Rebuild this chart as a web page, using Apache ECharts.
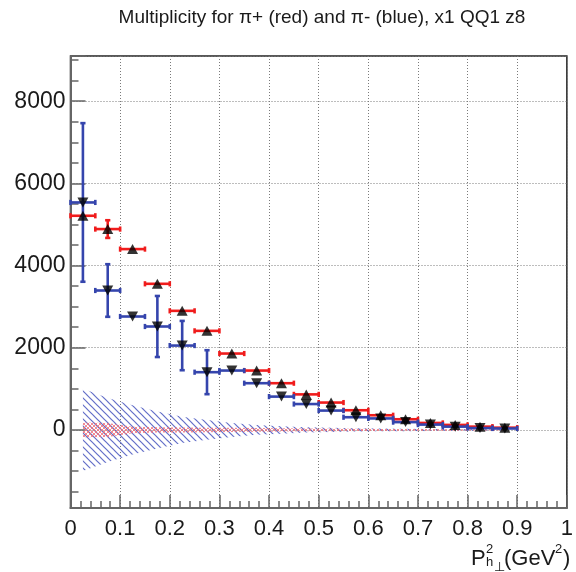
<!DOCTYPE html>
<html>
<head>
<meta charset="utf-8">
<script src="https://cdn.jsdelivr.net/npm/echarts@6/dist/echarts.min.js"></script>
<style>
  html, body { margin: 0; padding: 0; background: #fff; }
  #chart { width: 576px; height: 572px; }
</style>
</head>
<body>
<div id="chart"></div>
<script>
// P_h⊥² bins (centres) and half-width
const binCenters = [0.025, 0.075, 0.125, 0.175, 0.225, 0.275, 0.325, 0.375, 0.425,
                    0.475, 0.525, 0.575, 0.625, 0.675, 0.725, 0.775, 0.825, 0.875];
const binHalfWidth = 0.025;

// pi+ multiplicity (red), statistical errors and systematic band
const piPlusValues = [5212, 4888, 4401, 3556, 2898, 2411, 1859, 1445, 1137,
                      865, 666, 479, 357, 260, 170, 122, 80, 55];
const piPlusErrors = [80, 215, 70, 80, 70, 60, 55, 50, 45,
                      40, 35, 30, 30, 25, 25, 20, 20, 20];
const piPlusSyst   = [180, 170, 80, 65, 60, 55, 50, 45, 40,
                      35, 30, 28, 25, 22, 20, 18, 16, 15];

// pi- multiplicity (blue), statistical errors and systematic band
const piMinusValues = [5536, 3393, 2760, 2517, 2053, 1405, 1445, 1137, 811,
                       630, 471, 309, 280, 190, 130, 80, 45, 35];
const piMinusErrors = [1930, 640, 90, 743, 600, 535, 70, 60, 55,
                       50, 45, 40, 35, 30, 30, 25, 25, 25];
const piMinusSyst   = [1000, 780, 600, 450, 320, 240, 170, 120, 90,
                       65, 50, 40, 35, 30, 25, 20, 18, 15];

const xTickLabels = ['0', '0.1', '0.2', '0.3', '0.4', '0.5', '0.6', '0.7', '0.8', '0.9', '1'];

const FONT = '"Liberation Sans", Arial, Helvetica, sans-serif';
const SYMBOL_FONT = '"DejaVu Sans", sans-serif';
const RED = '#f01c1c';
const BLUE = '#3545ad';
const INK = '#1a1a1a';

// hatch fills for the systematic bands
function makeHatch(size, color, width, cross) {
  const c = document.createElement('canvas');
  c.width = size; c.height = size;
  const g = c.getContext('2d');
  g.strokeStyle = color;
  g.lineWidth = width;
  const seg = (x1, y1, x2, y2) => { g.beginPath(); g.moveTo(x1, y1); g.lineTo(x2, y2); g.stroke(); };
  seg(-1, -1, size + 1, size + 1);
  seg(-1, size - 1, 1, size + 1);
  seg(size - 1, -1, size + 1, 1);
  if (cross) {
    seg(-1, size + 1, size + 1, -1);
    seg(-1, 1, 1, -1);
    seg(size - 1, size + 1, size + 1, size - 1);
  }
  return { image: c, repeat: 'repeat' };
}
const blueHatch = makeHatch(7, 'rgba(70,85,190,0.85)', 1.2, false);
const redHatch = makeHatch(4, 'rgba(240,110,120,0.8)', 1.0, true);

function bandRenderer(values, fill) {
  return function (params, api) {
    const upper = binCenters.map((x, i) => api.coord([x, values[i]]));
    const lower = binCenters.map((x, i) => api.coord([x, -values[i]])).reverse();
    return {
      type: 'polygon',
      shape: { points: upper.concat(lower) },
      style: { fill: fill, stroke: null }
    };
  };
}

function errorBarRenderer(color) {
  return function (params, api) {
    const x = api.value(0), y = api.value(1), e = api.value(2);
    const l = api.coord([x - binHalfWidth, y]);
    const r = api.coord([x + binHalfWidth, y]);
    const t = api.coord([x, y + e]);
    const b = api.coord([x, y - e]);
    const style = { stroke: color, lineWidth: 2.6 };
    const cap = 2.6;
    const children = [
      { type: 'line', shape: { x1: l[0], y1: l[1], x2: r[0], y2: r[1] }, style },
      { type: 'line', shape: { x1: l[0], y1: l[1] - cap, x2: l[0], y2: l[1] + cap }, style },
      { type: 'line', shape: { x1: r[0], y1: r[1] - cap, x2: r[0], y2: r[1] + cap }, style }
    ];
    if (b[1] - t[1] > 9) {
      children.push(
        { type: 'line', shape: { x1: t[0], y1: t[1], x2: b[0], y2: b[1] }, style },
        { type: 'line', shape: { x1: t[0] - cap, y1: t[1], x2: t[0] + cap, y2: t[1] }, style },
        { type: 'line', shape: { x1: b[0] - cap, y1: b[1], x2: b[0] + cap, y2: b[1] }, style }
      );
    }
    return { type: 'group', children };
  };
}

const plusPoints = binCenters.map((x, i) => [x, piPlusValues[i], piPlusErrors[i]]);
const minusPoints = binCenters.map((x, i) => [x, piMinusValues[i], piMinusErrors[i]]);

const chart = echarts.init(document.getElementById('chart'), null, { renderer: 'canvas' });

const gridLine = { show: true, lineStyle: { color: '#7a7a7a', type: [1, 2], width: 1 } };

function txt(x, y, text, size, family) {
  return { type: 'text', x: x, y: y,
           style: { text: text, font: size + 'px ' + (family || FONT), fill: INK } };
}

chart.setOption({
  animation: false,
  backgroundColor: '#fff',
  graphic: [
    {
      type: 'text', x: 322, y: 18,
      style: { text: 'Multiplicity for π+ (red) and π- (blue), x1 QQ1 z8',
               font: '19px ' + FONT, fill: INK, align: 'center', verticalAlign: 'middle' }
    },
    txt(471, 548, 'P', 22),
    txt(486, 543, '2', 13),
    txt(486, 556, 'h', 13),
    txt(494, 561, '⊥', 13, SYMBOL_FONT),
    txt(504, 548, '(GeV', 22),
    txt(555, 543, '2', 13),
    txt(563, 548, ')', 22)
  ],
  grid: {
    left: 70.5, right: 3, top: 56, bottom: 64,
    show: true, borderColor: '#222', borderWidth: 1.5, backgroundColor: 'transparent'
  },
  xAxis: {
    type: 'value', min: 0, max: 1, interval: 0.1,
    axisLine: { show: true, onZero: false, lineStyle: { color: '#666', width: 2 } },
    axisTick: { show: true, inside: true, length: 13, lineStyle: { color: '#666', width: 1.5 } },
    minorTick: { show: true, splitNumber: 5, length: 7, lineStyle: { color: '#666', width: 1.5 } },
    axisLabel: {
      margin: 10, color: INK, fontSize: 22, fontFamily: FONT,
      formatter: (v) => xTickLabels[Math.round(v * 10)]
    },
    splitLine: gridLine
  },
  yAxis: {
    type: 'value', min: -1900, max: 9100, splitNumber: 5, minInterval: 2000, maxInterval: 2000,
    axisLine: { show: true, onZero: false, lineStyle: { color: '#666', width: 2 } },
    axisTick: { show: true, inside: true, length: 15, lineStyle: { color: '#666', width: 1.5 } },
    minorTick: { show: true, splitNumber: 4, length: 8, lineStyle: { color: '#666', width: 1.5 } },
    axisLabel: {
      margin: 5, color: INK, fontSize: 23, fontFamily: FONT,
      showMinLabel: false, showMaxLabel: false,
      formatter: (v) => String(v)
    },
    splitLine: gridLine
  },
  series: [
    { type: 'custom', name: 'pi- syst', data: [[0, 0]], z: 1, silent: true,
      renderItem: bandRenderer(piMinusSyst, blueHatch) },
    { type: 'custom', name: 'pi+ syst', data: [[0, 0]], z: 1, silent: true,
      renderItem: bandRenderer(piPlusSyst, redHatch) },
    { type: 'custom', name: 'pi+ errors', data: plusPoints, z: 2,
      encode: { x: 0, y: 1 }, renderItem: errorBarRenderer(RED) },
    { type: 'custom', name: 'pi- errors', data: minusPoints, z: 3,
      encode: { x: 0, y: 1 }, renderItem: errorBarRenderer(BLUE) },
    { type: 'scatter', name: 'pi+', data: plusPoints, z: 4,
      symbol: 'triangle', symbolSize: [11, 10], itemStyle: { color: '#000' } },
    { type: 'scatter', name: 'pi-', data: minusPoints, z: 5,
      symbol: 'triangle', symbolRotate: 180, symbolSize: [11, 10], itemStyle: { color: '#000' } }
  ]
});
</script>
</body>
</html>
